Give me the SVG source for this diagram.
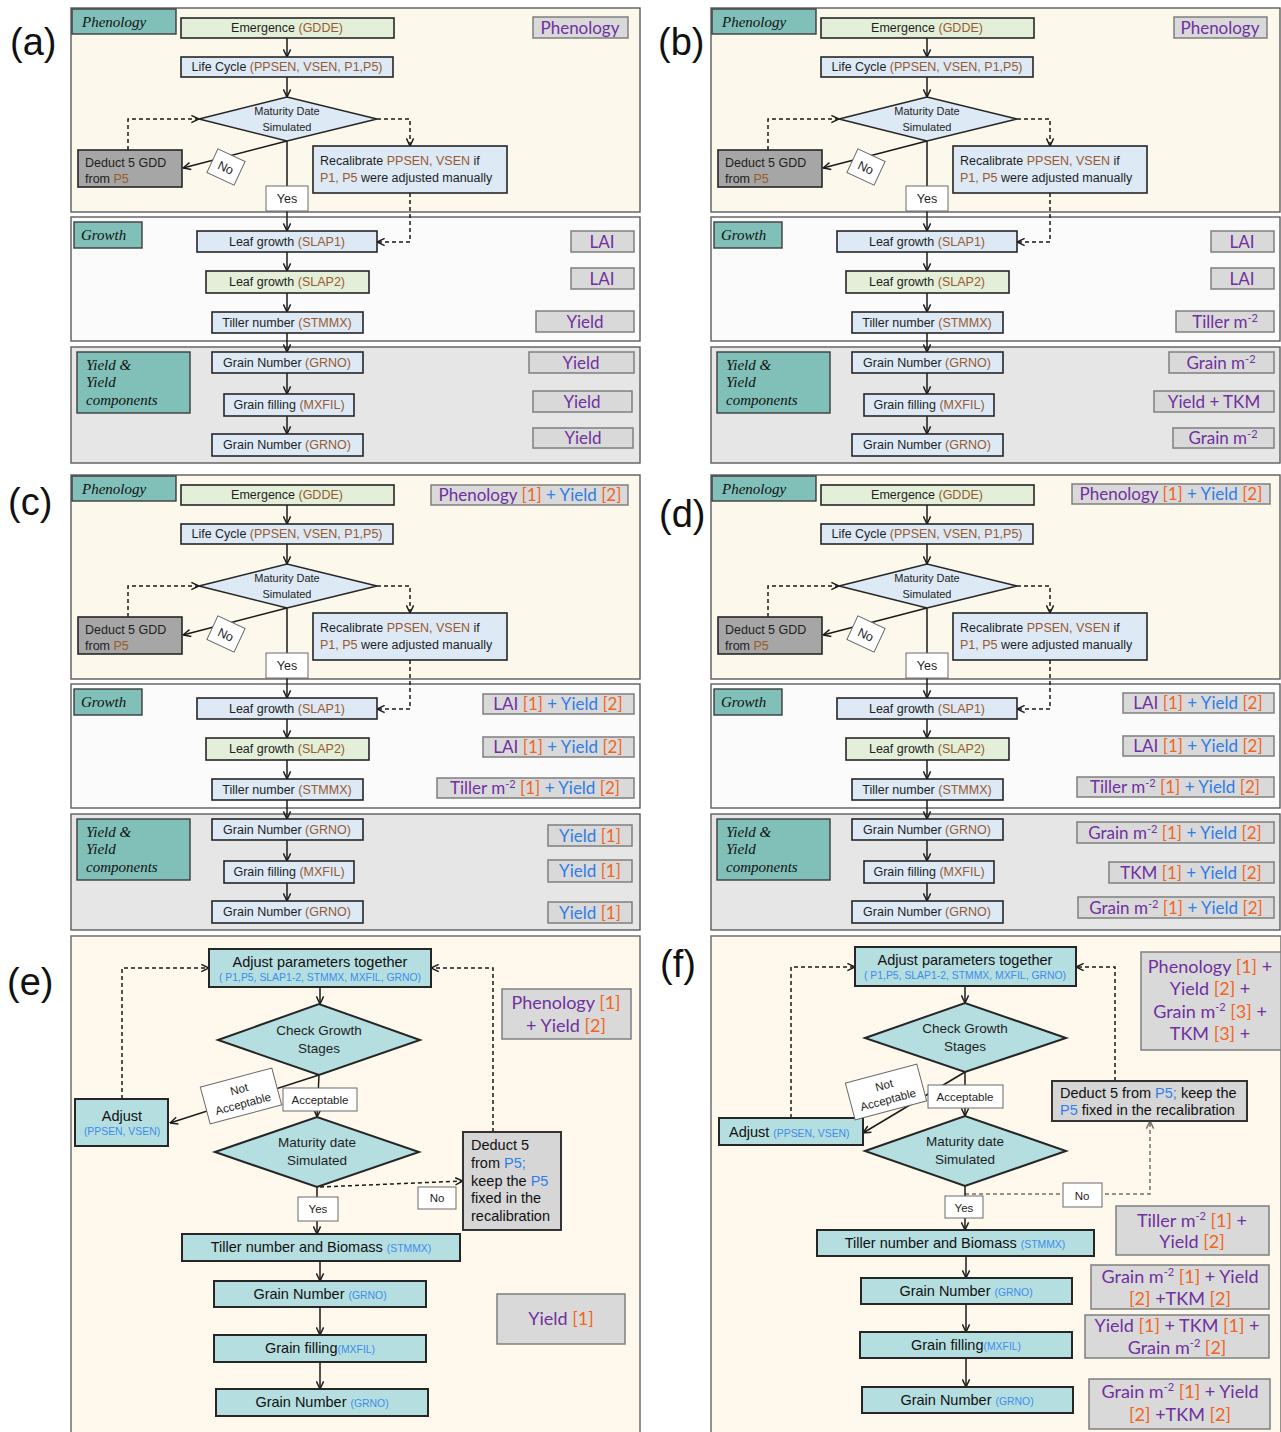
<svg xmlns="http://www.w3.org/2000/svg" width="1281" height="1432" viewBox="0 0 1281 1432">
<defs>
<marker id="ah" viewBox="0 0 10 10" refX="9.5" refY="5" markerWidth="9" markerHeight="9" markerUnits="userSpaceOnUse" orient="auto"><path d="M1,1 L9.5,5 L1,9" fill="none" stroke="#1a1a1a" stroke-width="1.6"/></marker>
<marker id="ahg" viewBox="0 0 10 10" refX="9.5" refY="5" markerWidth="9" markerHeight="9" markerUnits="userSpaceOnUse" orient="auto"><path d="M1,1 L9.5,5 L1,9" fill="none" stroke="#7a6f5f" stroke-width="1.6"/></marker>
<style>
.sp{fill:#FDF8EC;stroke:#5c5c5c;stroke-width:1.4}
.sg{fill:#FBFBFB;stroke:#5c5c5c;stroke-width:1.4}
.sy{fill:#E6E6E6;stroke:#5c5c5c;stroke-width:1.4}
.tag{fill:#80C0B8;stroke:#3d3d3d;stroke-width:1.4}
.tagt{font-family:"Liberation Serif","DejaVu Serif",serif;font-style:italic;font-size:15px;fill:#111}
.pb{fill:#DDE9F5;stroke:#262626;stroke-width:1.6}
.pg{fill:#E3EFD8;stroke:#262626;stroke-width:1.6}
.pd{fill:#A6A6A6;stroke:#262626;stroke-width:1.6}
.wl{fill:#fff;stroke:#6a6a6a;stroke-width:1}
.nt{font-family:"Liberation Sans",Arial,sans-serif;font-size:12.5px;fill:#1e1e1e;text-anchor:middle}
.ntl{font-family:"Liberation Sans",Arial,sans-serif;font-size:12.5px;fill:#1e1e1e}
.dt{font-family:"Liberation Sans",Arial,sans-serif;font-size:11px;fill:#1e1e1e;text-anchor:middle}
.br{fill:#985A2E}
.lab{fill:#D9D9D9;stroke:#7f7f7f;stroke-width:1.5}
.lt{font-family:Lato,"Liberation Sans",sans-serif;font-size:17px;fill:#7030A0;text-anchor:middle}
.or{fill:#F26522}
.bl{fill:#2F7DE6}
.c{fill:none;stroke:#1a1a1a;stroke-width:1.5;marker-end:url(#ah)}
.cg{fill:none;stroke:#7a6f5f;stroke-width:1.5;marker-end:url(#ahg)}
.d{stroke-dasharray:4 3}
.pl{font-family:"Liberation Sans",Arial,sans-serif;font-size:38px;fill:#111}
.pan{fill:#FEF9EC;stroke:#6f6f6f;stroke-width:1.5}
.tb{fill:#B5DEE0;stroke:#262626;stroke-width:2}
.gb{fill:#D6D6D6;stroke:#333;stroke-width:2}
.et{font-family:"Liberation Sans",Arial,sans-serif;font-size:14.5px;fill:#111}
.etc{font-family:"Liberation Sans",Arial,sans-serif;font-size:14.5px;fill:#111;text-anchor:middle}
.dtl{font-family:"Liberation Sans",Arial,sans-serif;font-size:13.5px;fill:#1e1e1e;text-anchor:middle}
.sm{font-family:"Liberation Sans",Arial,sans-serif;font-size:11.5px;fill:#1e1e1e;text-anchor:middle}
.sb{font-size:10.4px;fill:#3C8DEB}
.p5{fill:#2F80ED}
.big{font-family:Lato,"Liberation Sans",sans-serif;font-size:18px;fill:#7030A0;text-anchor:middle}
</style>
</defs>
<rect width="1281" height="1432" fill="#fff"/>

<!-- Panel letters -->
<g id="panel-letters">
<text class="pl" x="10" y="55">(a)</text>
<text class="pl" x="658" y="55">(b)</text>
<text class="pl" x="8" y="515">(c)</text>
<text class="pl" x="659" y="527">(d)</text>
<text class="pl" x="7" y="995">(e)</text>
<text class="pl" x="660" y="977">(f)</text>
</g>

<!-- ============ PANEL A ============ -->
<g id="panel-a">
<rect class="sp" x="71" y="8" width="569" height="204"/>
<rect class="sg" x="71" y="217" width="569" height="124"/>
<rect class="sy" x="71" y="347" width="569" height="116"/>
<g id="a-tag-phenology"><rect class="tag" x="72" y="9" width="104" height="25"/><text class="tagt" x="82" y="27">Phenology</text></g>
<g id="a-tag-growth"><rect class="tag" x="74" y="222" width="68" height="26"/><text class="tagt" x="81" y="240">Growth</text></g>
<g id="a-tag-yield"><rect class="tag" x="77" y="352" width="113" height="61"/><text class="tagt" x="86" y="370">Yield &amp;</text><text class="tagt" x="86" y="387">Yield</text><text class="tagt" x="86" y="405">components</text></g>
<g id="a-connectors">
<path class="c" d="M287,38 V57"/>
<path class="c" d="M287,77 V97"/>
<path class="c d" d="M377,119 H410 V146"/>
<path class="c d" d="M128,150 V119 H199"/>
<path class="c" d="M287,141 L183,168"/>
<path class="c" d="M287,141 V231"/>
<path class="c d" d="M410,193 V242 H377"/>
<path class="c" d="M287,252 V271"/>
<path class="c" d="M287,293 V312"/>
<path class="c" d="M287,333 V352"/>
<path class="c" d="M287,373 V394"/>
<path class="c" d="M287,416 V434"/>
</g>
<g id="a-emergence"><rect class="pg" x="181" y="18" width="213" height="20"/><text class="nt" x="287" y="32">Emergence <tspan class="br">(GDDE)</tspan></text></g>
<g id="a-lifecycle"><rect class="pb" x="181" y="57" width="212" height="20"/><text class="nt" x="287" y="71">Life Cycle <tspan class="br">(PPSEN, VSEN, P1,P5)</tspan></text></g>
<g id="a-maturity"><polygon class="pb" points="199,119 287,97 377,119 287,141"/><text class="dt" x="287" y="115">Maturity Date</text><text class="dt" x="287" y="131">Simulated</text></g>
<g id="a-deduct"><rect class="pd" x="78" y="150" width="104" height="37"/><text class="ntl" x="85" y="167">Deduct 5 GDD</text><text class="ntl" x="85" y="183">from <tspan class="br">P5</tspan></text></g>
<g id="a-recalibrate"><rect class="pb" x="313" y="146" width="194" height="47"/><text class="ntl" x="320" y="165">Recalibrate <tspan class="br">PPSEN, VSEN</tspan> if</text><text class="ntl" x="320" y="182"><tspan class="br">P1, P5</tspan> were adjusted manually</text></g>
<g id="a-no" transform="translate(226,167) rotate(25)"><rect class="wl" x="-15" y="-13" width="30" height="26"/><text class="nt" x="0" y="5">No</text></g>
<g id="a-yes"><rect class="wl" x="266" y="186" width="42" height="25"/><text class="nt" x="287" y="203">Yes</text></g>
<g id="a-slap1"><rect class="pb" x="197" y="231" width="180" height="21"/><text class="nt" x="287" y="246">Leaf growth <tspan class="br">(SLAP1)</tspan></text></g>
<g id="a-slap2"><rect class="pg" x="206" y="271" width="163" height="22"/><text class="nt" x="287" y="286">Leaf growth <tspan class="br">(SLAP2)</tspan></text></g>
<g id="a-tiller"><rect class="pb" x="212" y="312" width="151" height="21"/><text class="nt" x="287" y="327">Tiller number <tspan class="br">(STMMX)</tspan></text></g>
<g id="a-grno1"><rect class="pb" x="212" y="352" width="151" height="21"/><text class="nt" x="287" y="367">Grain Number <tspan class="br">(GRNO)</tspan></text></g>
<g id="a-mxfil"><rect class="pb" x="224" y="394" width="130" height="22"/><text class="nt" x="289" y="409">Grain filling <tspan class="br">(MXFIL)</tspan></text></g>
<g id="a-grno2"><rect class="pb" x="212" y="434" width="151" height="22"/><text class="nt" x="287" y="449">Grain Number <tspan class="br">(GRNO)</tspan></text></g>
<g id="a-lab1"><rect class="lab" x="533" y="17" width="95" height="21"/><text class="lt" x="580" y="34">Phenology</text></g>
<g id="a-lab2"><rect class="lab" x="571" y="231" width="63" height="21"/><text class="lt" x="602" y="248">LAI</text></g>
<g id="a-lab3"><rect class="lab" x="571" y="268" width="63" height="21"/><text class="lt" x="602" y="285">LAI</text></g>
<g id="a-lab4"><rect class="lab" x="536" y="311" width="98" height="21"/><text class="lt" x="585" y="328">Yield</text></g>
<g id="a-lab5"><rect class="lab" x="529" y="352" width="105" height="21"/><text class="lt" x="581" y="369">Yield</text></g>
<g id="a-lab6"><rect class="lab" x="533" y="391" width="99" height="21"/><text class="lt" x="582" y="408">Yield</text></g>
<g id="a-lab7"><rect class="lab" x="533" y="428" width="100" height="20"/><text class="lt" x="583" y="444">Yield</text></g>
</g>

<!-- ============ PANEL B ============ -->
<g id="panel-b" transform="translate(640,0)">
<rect class="sp" x="71" y="8" width="569" height="204"/>
<rect class="sg" x="71" y="217" width="569" height="124"/>
<rect class="sy" x="71" y="347" width="569" height="116"/>
<g id="b-tag-phenology"><rect class="tag" x="72" y="9" width="104" height="25"/><text class="tagt" x="82" y="27">Phenology</text></g>
<g id="b-tag-growth"><rect class="tag" x="74" y="222" width="68" height="26"/><text class="tagt" x="81" y="240">Growth</text></g>
<g id="b-tag-yield"><rect class="tag" x="77" y="352" width="113" height="61"/><text class="tagt" x="86" y="370">Yield &amp;</text><text class="tagt" x="86" y="387">Yield</text><text class="tagt" x="86" y="405">components</text></g>
<g id="b-connectors">
<path class="c" d="M287,38 V57"/>
<path class="c" d="M287,77 V97"/>
<path class="c d" d="M377,119 H410 V146"/>
<path class="c d" d="M128,150 V119 H199"/>
<path class="c" d="M287,141 L183,168"/>
<path class="c" d="M287,141 V231"/>
<path class="c d" d="M410,193 V242 H377"/>
<path class="c" d="M287,252 V271"/>
<path class="c" d="M287,293 V312"/>
<path class="c" d="M287,333 V352"/>
<path class="c" d="M287,373 V394"/>
<path class="c" d="M287,416 V434"/>
</g>
<g id="b-emergence"><rect class="pg" x="181" y="18" width="213" height="20"/><text class="nt" x="287" y="32">Emergence <tspan class="br">(GDDE)</tspan></text></g>
<g id="b-lifecycle"><rect class="pb" x="181" y="57" width="212" height="20"/><text class="nt" x="287" y="71">Life Cycle <tspan class="br">(PPSEN, VSEN, P1,P5)</tspan></text></g>
<g id="b-maturity"><polygon class="pb" points="199,119 287,97 377,119 287,141"/><text class="dt" x="287" y="115">Maturity Date</text><text class="dt" x="287" y="131">Simulated</text></g>
<g id="b-deduct"><rect class="pd" x="78" y="150" width="104" height="37"/><text class="ntl" x="85" y="167">Deduct 5 GDD</text><text class="ntl" x="85" y="183">from <tspan class="br">P5</tspan></text></g>
<g id="b-recalibrate"><rect class="pb" x="313" y="146" width="194" height="47"/><text class="ntl" x="320" y="165">Recalibrate <tspan class="br">PPSEN, VSEN</tspan> if</text><text class="ntl" x="320" y="182"><tspan class="br">P1, P5</tspan> were adjusted manually</text></g>
<g id="b-no" transform="translate(226,167) rotate(25)"><rect class="wl" x="-15" y="-13" width="30" height="26"/><text class="nt" x="0" y="5">No</text></g>
<g id="b-yes"><rect class="wl" x="266" y="186" width="42" height="25"/><text class="nt" x="287" y="203">Yes</text></g>
<g id="b-slap1"><rect class="pb" x="197" y="231" width="180" height="21"/><text class="nt" x="287" y="246">Leaf growth <tspan class="br">(SLAP1)</tspan></text></g>
<g id="b-slap2"><rect class="pg" x="206" y="271" width="163" height="22"/><text class="nt" x="287" y="286">Leaf growth <tspan class="br">(SLAP2)</tspan></text></g>
<g id="b-tiller"><rect class="pb" x="212" y="312" width="151" height="21"/><text class="nt" x="287" y="327">Tiller number <tspan class="br">(STMMX)</tspan></text></g>
<g id="b-grno1"><rect class="pb" x="212" y="352" width="151" height="21"/><text class="nt" x="287" y="367">Grain Number <tspan class="br">(GRNO)</tspan></text></g>
<g id="b-mxfil"><rect class="pb" x="224" y="394" width="130" height="22"/><text class="nt" x="289" y="409">Grain filling <tspan class="br">(MXFIL)</tspan></text></g>
<g id="b-grno2"><rect class="pb" x="212" y="434" width="151" height="22"/><text class="nt" x="287" y="449">Grain Number <tspan class="br">(GRNO)</tspan></text></g>
<g id="b-lab1"><rect class="lab" x="534" y="17" width="93" height="21"/><text class="lt" x="580" y="34">Phenology</text></g>
<g id="b-lab2"><rect class="lab" x="571" y="231" width="63" height="21"/><text class="lt" x="602" y="248">LAI</text></g>
<g id="b-lab3"><rect class="lab" x="571" y="268" width="63" height="21"/><text class="lt" x="602" y="285">LAI</text></g>
<g id="b-lab4"><rect class="lab" x="536" y="311" width="98" height="21"/><text class="lt" x="585" y="328">Tiller m<tspan font-size="11" dy="-6">-2</tspan></text></g>
<g id="b-lab5"><rect class="lab" x="529" y="352" width="105" height="21"/><text class="lt" x="581" y="369">Grain m<tspan font-size="11" dy="-6">-2</tspan></text></g>
<g id="b-lab6"><rect class="lab" x="514" y="391" width="120" height="21"/><text class="lt" x="574" y="408">Yield + TKM</text></g>
<g id="b-lab7"><rect class="lab" x="533" y="428" width="101" height="20"/><text class="lt" x="583" y="444">Grain m<tspan font-size="11" dy="-6">-2</tspan></text></g>
</g>

<!-- ============ PANEL C ============ -->
<g id="panel-c" transform="translate(0,467)">
<rect class="sp" x="71" y="8" width="569" height="204"/>
<rect class="sg" x="71" y="217" width="569" height="124"/>
<rect class="sy" x="71" y="347" width="569" height="116"/>
<g id="c-tag-phenology"><rect class="tag" x="72" y="9" width="104" height="25"/><text class="tagt" x="82" y="27">Phenology</text></g>
<g id="c-tag-growth"><rect class="tag" x="74" y="222" width="68" height="26"/><text class="tagt" x="81" y="240">Growth</text></g>
<g id="c-tag-yield"><rect class="tag" x="77" y="352" width="113" height="61"/><text class="tagt" x="86" y="370">Yield &amp;</text><text class="tagt" x="86" y="387">Yield</text><text class="tagt" x="86" y="405">components</text></g>
<g id="c-connectors">
<path class="c" d="M287,38 V57"/>
<path class="c" d="M287,77 V97"/>
<path class="c d" d="M377,119 H410 V146"/>
<path class="c d" d="M128,150 V119 H199"/>
<path class="c" d="M287,141 L183,168"/>
<path class="c" d="M287,141 V231"/>
<path class="c d" d="M410,193 V242 H377"/>
<path class="c" d="M287,252 V271"/>
<path class="c" d="M287,293 V312"/>
<path class="c" d="M287,333 V352"/>
<path class="c" d="M287,373 V394"/>
<path class="c" d="M287,416 V434"/>
</g>
<g id="c-emergence"><rect class="pg" x="181" y="18" width="213" height="20"/><text class="nt" x="287" y="32">Emergence <tspan class="br">(GDDE)</tspan></text></g>
<g id="c-lifecycle"><rect class="pb" x="181" y="57" width="212" height="20"/><text class="nt" x="287" y="71">Life Cycle <tspan class="br">(PPSEN, VSEN, P1,P5)</tspan></text></g>
<g id="c-maturity"><polygon class="pb" points="199,119 287,97 377,119 287,141"/><text class="dt" x="287" y="115">Maturity Date</text><text class="dt" x="287" y="131">Simulated</text></g>
<g id="c-deduct"><rect class="pd" x="78" y="150" width="104" height="37"/><text class="ntl" x="85" y="167">Deduct 5 GDD</text><text class="ntl" x="85" y="183">from <tspan class="br">P5</tspan></text></g>
<g id="c-recalibrate"><rect class="pb" x="313" y="146" width="194" height="47"/><text class="ntl" x="320" y="165">Recalibrate <tspan class="br">PPSEN, VSEN</tspan> if</text><text class="ntl" x="320" y="182"><tspan class="br">P1, P5</tspan> were adjusted manually</text></g>
<g id="c-no" transform="translate(226,167) rotate(25)"><rect class="wl" x="-15" y="-13" width="30" height="26"/><text class="nt" x="0" y="5">No</text></g>
<g id="c-yes"><rect class="wl" x="266" y="186" width="42" height="25"/><text class="nt" x="287" y="203">Yes</text></g>
<g id="c-slap1"><rect class="pb" x="197" y="231" width="180" height="21"/><text class="nt" x="287" y="246">Leaf growth <tspan class="br">(SLAP1)</tspan></text></g>
<g id="c-slap2"><rect class="pg" x="206" y="271" width="163" height="22"/><text class="nt" x="287" y="286">Leaf growth <tspan class="br">(SLAP2)</tspan></text></g>
<g id="c-tiller"><rect class="pb" x="212" y="312" width="151" height="21"/><text class="nt" x="287" y="327">Tiller number <tspan class="br">(STMMX)</tspan></text></g>
<g id="c-grno1"><rect class="pb" x="212" y="352" width="151" height="21"/><text class="nt" x="287" y="367">Grain Number <tspan class="br">(GRNO)</tspan></text></g>
<g id="c-mxfil"><rect class="pb" x="224" y="394" width="130" height="22"/><text class="nt" x="289" y="409">Grain filling <tspan class="br">(MXFIL)</tspan></text></g>
<g id="c-grno2"><rect class="pb" x="212" y="434" width="151" height="22"/><text class="nt" x="287" y="449">Grain Number <tspan class="br">(GRNO)</tspan></text></g>
<g id="c-lab1"><rect class="lab" x="431" y="18" width="197" height="20"/><text class="lt" x="530" y="34">Phenology <tspan class="or">[1]</tspan><tspan class="bl"> + Yield </tspan><tspan class="or">[2]</tspan></text></g>
<g id="c-lab2"><rect class="lab" x="483" y="227" width="151" height="20"/><text class="lt" x="558" y="243">LAI <tspan class="or">[1]</tspan><tspan class="bl"> + Yield </tspan><tspan class="or">[2]</tspan></text></g>
<g id="c-lab3"><rect class="lab" x="483" y="270" width="151" height="20"/><text class="lt" x="558" y="286">LAI <tspan class="or">[1]</tspan><tspan class="bl"> + Yield </tspan><tspan class="or">[2]</tspan></text></g>
<g id="c-lab4"><rect class="lab" x="437" y="311" width="197" height="20"/><text class="lt" x="535" y="327">Tiller m<tspan font-size="11" dy="-6">-2</tspan><tspan class="or" dy="6"> [1]</tspan><tspan class="bl"> + Yield </tspan><tspan class="or">[2]</tspan></text></g>
<g id="c-lab5"><rect class="lab" x="548" y="358" width="84" height="21"/><text class="lt" x="590" y="375"><tspan class="bl">Yield </tspan><tspan class="or">[1]</tspan></text></g>
<g id="c-lab6"><rect class="lab" x="548" y="393" width="84" height="22"/><text class="lt" x="590" y="410"><tspan class="bl">Yield </tspan><tspan class="or">[1]</tspan></text></g>
<g id="c-lab7"><rect class="lab" x="548" y="435" width="84" height="21"/><text class="lt" x="590" y="452"><tspan class="bl">Yield </tspan><tspan class="or">[1]</tspan></text></g>
</g>

<!-- ============ PANEL D ============ -->
<g id="panel-d" transform="translate(640,467)">
<rect class="sp" x="71" y="8" width="569" height="204"/>
<rect class="sg" x="71" y="217" width="569" height="124"/>
<rect class="sy" x="71" y="347" width="569" height="116"/>
<g id="d-tag-phenology"><rect class="tag" x="72" y="9" width="104" height="25"/><text class="tagt" x="82" y="27">Phenology</text></g>
<g id="d-tag-growth"><rect class="tag" x="74" y="222" width="68" height="26"/><text class="tagt" x="81" y="240">Growth</text></g>
<g id="d-tag-yield"><rect class="tag" x="77" y="352" width="113" height="61"/><text class="tagt" x="86" y="370">Yield &amp;</text><text class="tagt" x="86" y="387">Yield</text><text class="tagt" x="86" y="405">components</text></g>
<g id="d-connectors">
<path class="c" d="M287,38 V57"/>
<path class="c" d="M287,77 V97"/>
<path class="c d" d="M377,119 H410 V146"/>
<path class="c d" d="M128,150 V119 H199"/>
<path class="c" d="M287,141 L183,168"/>
<path class="c" d="M287,141 V231"/>
<path class="c d" d="M410,193 V242 H377"/>
<path class="c" d="M287,252 V271"/>
<path class="c" d="M287,293 V312"/>
<path class="c" d="M287,333 V352"/>
<path class="c" d="M287,373 V394"/>
<path class="c" d="M287,416 V434"/>
</g>
<g id="d-emergence"><rect class="pg" x="181" y="18" width="213" height="20"/><text class="nt" x="287" y="32">Emergence <tspan class="br">(GDDE)</tspan></text></g>
<g id="d-lifecycle"><rect class="pb" x="181" y="57" width="212" height="20"/><text class="nt" x="287" y="71">Life Cycle <tspan class="br">(PPSEN, VSEN, P1,P5)</tspan></text></g>
<g id="d-maturity"><polygon class="pb" points="199,119 287,97 377,119 287,141"/><text class="dt" x="287" y="115">Maturity Date</text><text class="dt" x="287" y="131">Simulated</text></g>
<g id="d-deduct"><rect class="pd" x="78" y="150" width="104" height="37"/><text class="ntl" x="85" y="167">Deduct 5 GDD</text><text class="ntl" x="85" y="183">from <tspan class="br">P5</tspan></text></g>
<g id="d-recalibrate"><rect class="pb" x="313" y="146" width="194" height="47"/><text class="ntl" x="320" y="165">Recalibrate <tspan class="br">PPSEN, VSEN</tspan> if</text><text class="ntl" x="320" y="182"><tspan class="br">P1, P5</tspan> were adjusted manually</text></g>
<g id="d-no" transform="translate(226,167) rotate(25)"><rect class="wl" x="-15" y="-13" width="30" height="26"/><text class="nt" x="0" y="5">No</text></g>
<g id="d-yes"><rect class="wl" x="266" y="186" width="42" height="25"/><text class="nt" x="287" y="203">Yes</text></g>
<g id="d-slap1"><rect class="pb" x="197" y="231" width="180" height="21"/><text class="nt" x="287" y="246">Leaf growth <tspan class="br">(SLAP1)</tspan></text></g>
<g id="d-slap2"><rect class="pg" x="206" y="271" width="163" height="22"/><text class="nt" x="287" y="286">Leaf growth <tspan class="br">(SLAP2)</tspan></text></g>
<g id="d-tiller"><rect class="pb" x="212" y="312" width="151" height="21"/><text class="nt" x="287" y="327">Tiller number <tspan class="br">(STMMX)</tspan></text></g>
<g id="d-grno1"><rect class="pb" x="212" y="352" width="151" height="21"/><text class="nt" x="287" y="367">Grain Number <tspan class="br">(GRNO)</tspan></text></g>
<g id="d-mxfil"><rect class="pb" x="224" y="394" width="130" height="22"/><text class="nt" x="289" y="409">Grain filling <tspan class="br">(MXFIL)</tspan></text></g>
<g id="d-grno2"><rect class="pb" x="212" y="434" width="151" height="22"/><text class="nt" x="287" y="449">Grain Number <tspan class="br">(GRNO)</tspan></text></g>
<g id="d-lab1"><rect class="lab" x="432" y="17" width="198" height="20"/><text class="lt" x="531" y="33">Phenology <tspan class="or">[1]</tspan><tspan class="bl"> + Yield </tspan><tspan class="or">[2]</tspan></text></g>
<g id="d-lab2"><rect class="lab" x="483" y="226" width="151" height="20"/><text class="lt" x="558" y="242">LAI <tspan class="or">[1]</tspan><tspan class="bl"> + Yield </tspan><tspan class="or">[2]</tspan></text></g>
<g id="d-lab3"><rect class="lab" x="483" y="269" width="151" height="20"/><text class="lt" x="558" y="285">LAI <tspan class="or">[1]</tspan><tspan class="bl"> + Yield </tspan><tspan class="or">[2]</tspan></text></g>
<g id="d-lab4"><rect class="lab" x="437" y="310" width="197" height="20"/><text class="lt" x="535" y="326">Tiller m<tspan font-size="11" dy="-6">-2</tspan><tspan class="or" dy="6"> [1]</tspan><tspan class="bl"> + Yield </tspan><tspan class="or">[2]</tspan></text></g>
<g id="d-lab5"><rect class="lab" x="437" y="355" width="197" height="21"/><text class="lt" x="535" y="372">Grain m<tspan font-size="11" dy="-6">-2</tspan><tspan class="or" dy="6"> [1]</tspan><tspan class="bl"> + Yield </tspan><tspan class="or">[2]</tspan></text></g>
<g id="d-lab6"><rect class="lab" x="469" y="395" width="165" height="21"/><text class="lt" x="551" y="412">TKM <tspan class="or">[1]</tspan><tspan class="bl"> + Yield </tspan><tspan class="or">[2]</tspan></text></g>
<g id="d-lab7"><rect class="lab" x="438" y="430" width="196" height="21"/><text class="lt" x="536" y="447">Grain m<tspan font-size="11" dy="-6">-2</tspan><tspan class="or" dy="6"> [1]</tspan><tspan class="bl"> + Yield </tspan><tspan class="or">[2]</tspan></text></g>
</g>

<!-- ============ PANEL E ============ -->
<g id="panel-e">
<rect class="pan" x="71" y="936" width="569" height="500"/>
<g id="e-connectors">
<path class="c" d="M320,987 V1004"/>
<path class="c d" d="M122,1099 V968 H209"/>
<path class="c" d="M319,1075 L170,1123"/>
<path class="c" d="M319,1075 L317,1117"/>
<path class="c d" d="M320,1187 L463,1181"/>
<path class="c d" d="M493,1132 V968 H431"/>
<path class="c" d="M317,1187 V1234"/>
<path class="c" d="M320,1261 V1281"/>
<path class="c" d="M320,1307 V1335"/>
<path class="c" d="M320,1362 V1389"/>
</g>
<g id="e-adjust-together"><rect class="tb" x="209" y="949" width="222" height="38"/><text class="etc" x="320" y="967">Adjust parameters together</text><text class="etc sb" x="320" y="981">( P1,P5, SLAP1-2, STMMX, MXFIL, GRNO)</text></g>
<g id="e-check"><polygon class="tb" points="218,1040 319,1004 420,1040 319,1075"/><text class="dtl" x="319" y="1035">Check Growth</text><text class="dtl" x="319" y="1053">Stages</text></g>
<g id="e-adjust"><rect class="tb" x="75" y="1099" width="93" height="47"/><text class="etc" x="122" y="1121">Adjust</text><text class="etc sb" x="122" y="1135">(PPSEN, VSEN)</text></g>
<g id="e-notacc" transform="translate(241,1096) rotate(-15)"><rect class="wl" x="-37" y="-19" width="74" height="38"/><text class="sm" x="0" y="-3">Not</text><text class="sm" x="0" y="12">Acceptable</text></g>
<g id="e-acc"><rect class="wl" x="283" y="1088" width="74" height="23"/><text class="sm" x="320" y="1104">Acceptable</text></g>
<g id="e-maturity"><polygon class="tb" points="215,1152 317,1117 419,1152 317,1187"/><text class="dtl" x="317" y="1147">Maturity date</text><text class="dtl" x="317" y="1165">Simulated</text></g>
<g id="e-deduct"><rect class="gb" x="463" y="1132" width="98" height="98"/><text class="et" x="471" y="1150">Deduct 5</text><text class="et" x="471" y="1168">from <tspan class="p5">P5;</tspan></text><text class="et" x="471" y="1186">keep the <tspan class="p5">P5</tspan></text><text class="et" x="471" y="1203">fixed in the</text><text class="et" x="471" y="1221">recalibration</text></g>
<g id="e-no"><rect class="wl" x="418" y="1187" width="38" height="22"/><text class="sm" x="437" y="1202">No</text></g>
<g id="e-yes"><rect class="wl" x="298" y="1197" width="40" height="24"/><text class="sm" x="318" y="1213">Yes</text></g>
<g id="e-tiller"><rect class="tb" x="182" y="1234" width="278" height="27"/><text class="etc" x="321" y="1252">Tiller number and Biomass <tspan class="sb">(STMMX)</tspan></text></g>
<g id="e-grno1"><rect class="tb" x="214" y="1281" width="212" height="26"/><text class="etc" x="320" y="1299">Grain Number <tspan class="sb">(GRNO)</tspan></text></g>
<g id="e-mxfil"><rect class="tb" x="214" y="1335" width="212" height="27"/><text class="etc" x="320" y="1353">Grain filling<tspan class="sb">(MXFIL)</tspan></text></g>
<g id="e-grno2"><rect class="tb" x="216" y="1389" width="212" height="27"/><text class="etc" x="322" y="1407">Grain Number <tspan class="sb">(GRNO)</tspan></text></g>
<g id="e-lab1"><rect class="lab" x="502" y="989" width="129" height="50"/><text class="big" x="566" y="1009">Phenology <tspan class="or">[1]</tspan></text><text class="big" x="566" y="1032">+ Yield <tspan class="or">[2]</tspan></text></g>
<g id="e-lab2"><rect class="lab" x="497" y="1294" width="128" height="50"/><text class="big" x="561" y="1325">Yield <tspan class="or">[1]</tspan></text></g>
</g>

<!-- ============ PANEL F ============ -->
<g id="panel-f">
<rect class="pan" x="711" y="936" width="570" height="500"/>
<g id="f-connectors">
<path class="c" d="M965,986 V1003"/>
<path class="c d" d="M791,1118 V967 H855"/>
<path class="c" d="M965,1072 L863,1133"/>
<path class="c" d="M965,1072 V1116"/>
<path class="c d" d="M1115,1081 V967 H1076"/>
<path class="cg d" d="M965,1194 H1150 V1121"/>
<path class="c" d="M965,1186 V1230"/>
<path class="c" d="M966,1256 V1278"/>
<path class="c" d="M966,1304 V1332"/>
<path class="c" d="M966,1358 V1387"/>
</g>
<g id="f-adjust-together"><rect class="tb" x="855" y="947" width="221" height="39"/><text class="etc" x="965" y="965">Adjust parameters together</text><text class="etc sb" x="965" y="979">( P1,P5, SLAP1-2, STMMX, MXFIL, GRNO)</text></g>
<g id="f-check"><polygon class="tb" points="865,1038 965,1003 1066,1038 965,1072"/><text class="dtl" x="965" y="1033">Check Growth</text><text class="dtl" x="965" y="1051">Stages</text></g>
<g id="f-adjust"><rect class="tb" x="719" y="1118" width="144" height="27"/><text class="et" x="729" y="1137">Adjust <tspan class="sb">(PPSEN, VSEN)</tspan></text></g>
<g id="f-notacc" transform="translate(886,1092) rotate(-15)"><rect class="wl" x="-37" y="-19" width="74" height="38"/><text class="sm" x="0" y="-3">Not</text><text class="sm" x="0" y="12">Acceptable</text></g>
<g id="f-acc"><rect class="wl" x="928" y="1085" width="75" height="23"/><text class="sm" x="965" y="1101">Acceptable</text></g>
<g id="f-maturity"><polygon class="tb" points="865,1151 965,1116 1066,1151 965,1186"/><text class="dtl" x="965" y="1146">Maturity date</text><text class="dtl" x="965" y="1164">Simulated</text></g>
<g id="f-deduct"><rect class="gb" x="1052" y="1081" width="195" height="40"/><text class="et" x="1060" y="1098">Deduct 5 from <tspan class="p5">P5;</tspan> keep the</text><text class="et" x="1060" y="1115"><tspan class="p5">P5</tspan> fixed in the recalibration</text></g>
<g id="f-no"><rect class="wl" x="1063" y="1183" width="39" height="24"/><text class="sm" x="1082" y="1200">No</text></g>
<g id="f-yes"><rect class="wl" x="945" y="1196" width="38" height="22"/><text class="sm" x="964" y="1212">Yes</text></g>
<g id="f-tiller"><rect class="tb" x="817" y="1230" width="277" height="26"/><text class="etc" x="955" y="1248">Tiller number and Biomass <tspan class="sb">(STMMX)</tspan></text></g>
<g id="f-grno1"><rect class="tb" x="861" y="1278" width="211" height="26"/><text class="etc" x="966" y="1296">Grain Number <tspan class="sb">(GRNO)</tspan></text></g>
<g id="f-mxfil"><rect class="tb" x="860" y="1332" width="212" height="26"/><text class="etc" x="966" y="1350">Grain filling<tspan class="sb">(MXFIL)</tspan></text></g>
<g id="f-grno2"><rect class="tb" x="862" y="1387" width="211" height="26"/><text class="etc" x="967" y="1405">Grain Number <tspan class="sb">(GRNO)</tspan></text></g>
<g id="f-lab1"><rect class="lab" x="1141" y="952" width="140" height="98"/><text class="big" x="1210" y="973">Phenology <tspan class="or">[1]</tspan> +</text><text class="big" x="1210" y="995">Yield <tspan class="or">[2]</tspan> +</text><text class="big" x="1210" y="1018">Grain m<tspan font-size="11" dy="-7">-2</tspan><tspan class="or" dy="7"> [3]</tspan> +</text><text class="big" x="1210" y="1040">TKM <tspan class="or">[3]</tspan> +</text></g>
<g id="f-lab2"><rect class="lab" x="1116" y="1206" width="153" height="49"/><text class="big" x="1192" y="1227">Tiller m<tspan font-size="11" dy="-7">-2</tspan><tspan class="or" dy="7"> [1]</tspan> +</text><text class="big" x="1192" y="1248">Yield <tspan class="or">[2]</tspan></text></g>
<g id="f-lab3"><rect class="lab" x="1091" y="1265" width="178" height="44"/><text class="big" x="1180" y="1283">Grain m<tspan font-size="11" dy="-7">-2</tspan><tspan class="or" dy="7"> [1]</tspan> + Yield</text><text class="big" x="1180" y="1305"><tspan class="or">[2]</tspan> +TKM <tspan class="or">[2]</tspan></text></g>
<g id="f-lab4"><rect class="lab" x="1085" y="1315" width="184" height="43"/><text class="big" x="1177" y="1332">Yield <tspan class="or">[1]</tspan> + TKM <tspan class="or">[1]</tspan> +</text><text class="big" x="1177" y="1354">Grain m<tspan font-size="11" dy="-7">-2</tspan><tspan class="or" dy="7"> [2]</tspan></text></g>
<g id="f-lab5"><rect class="lab" x="1089" y="1379" width="181" height="50"/><text class="big" x="1180" y="1398">Grain m<tspan font-size="11" dy="-7">-2</tspan><tspan class="or" dy="7"> [1]</tspan> + Yield</text><text class="big" x="1180" y="1421"><tspan class="or">[2]</tspan> +TKM <tspan class="or">[2]</tspan></text></g>
</g>
</svg>
